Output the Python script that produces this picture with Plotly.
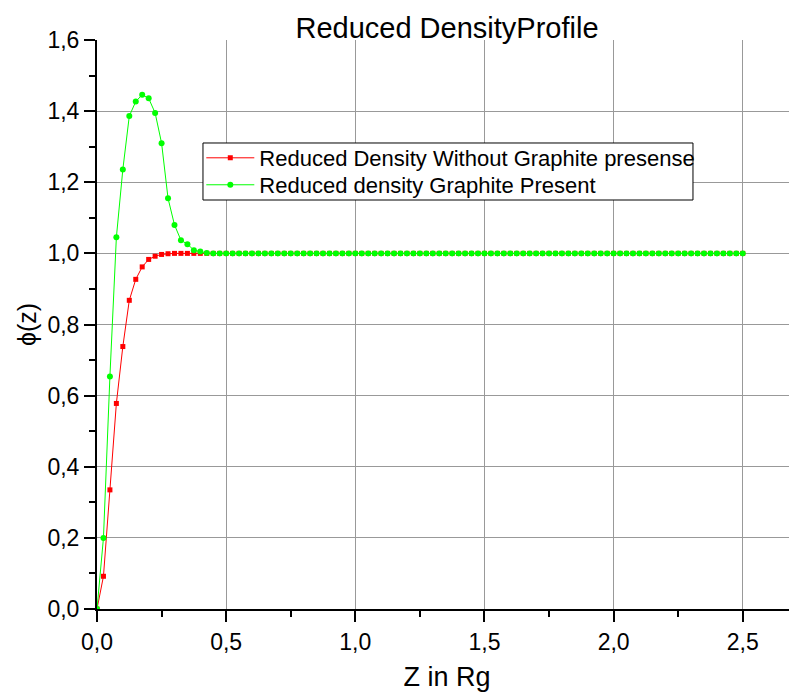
import plotly.graph_objects as go

# Reduced distance z (in units of Rg)
z = [
    0.0, 0.025, 0.05, 0.075, 0.1, 0.125, 0.15, 0.175, 0.2, 0.225,
    0.25, 0.275, 0.3, 0.325, 0.35, 0.375, 0.4, 0.425, 0.45, 0.475,
    0.5, 0.525, 0.55, 0.575, 0.6, 0.625, 0.65, 0.675, 0.7, 0.725,
    0.75, 0.775, 0.8, 0.825, 0.85, 0.875, 0.9, 0.925, 0.95, 0.975,
    1.0, 1.025, 1.05, 1.075, 1.1, 1.125, 1.15, 1.175, 1.2, 1.225,
    1.25, 1.275, 1.3, 1.325, 1.35, 1.375, 1.4, 1.425, 1.45, 1.475,
    1.5, 1.525, 1.55, 1.575, 1.6, 1.625, 1.65, 1.675, 1.7, 1.725,
    1.75, 1.775, 1.8, 1.825, 1.85, 1.875, 1.9, 1.925, 1.95, 1.975,
    2.0, 2.025, 2.05, 2.075, 2.1, 2.125, 2.15, 2.175, 2.2, 2.225,
    2.25, 2.275, 2.3, 2.325, 2.35, 2.375, 2.4, 2.425, 2.45, 2.475,
    2.5,
]

phi_without = [
    0.0, 0.092, 0.335, 0.578, 0.738, 0.868, 0.927, 0.962, 0.983, 0.992,
    0.997, 0.999, 1.0, 1.0, 1.0, 1.0, 1.0, 1.0, 1.0, 1.0,
    1.0, 1.0, 1.0, 1.0, 1.0, 1.0, 1.0, 1.0, 1.0, 1.0,
    1.0, 1.0, 1.0, 1.0, 1.0, 1.0, 1.0, 1.0, 1.0, 1.0,
    1.0, 1.0, 1.0, 1.0, 1.0, 1.0, 1.0, 1.0, 1.0, 1.0,
    1.0, 1.0, 1.0, 1.0, 1.0, 1.0, 1.0, 1.0, 1.0, 1.0,
    1.0, 1.0, 1.0, 1.0, 1.0, 1.0, 1.0, 1.0, 1.0, 1.0,
    1.0, 1.0, 1.0, 1.0, 1.0, 1.0, 1.0, 1.0, 1.0, 1.0,
    1.0, 1.0, 1.0, 1.0, 1.0, 1.0, 1.0, 1.0, 1.0, 1.0,
    1.0, 1.0, 1.0, 1.0, 1.0, 1.0, 1.0, 1.0, 1.0, 1.0,
    1.0,
]

phi_graphite = [
    0.0, 0.200, 0.654, 1.045, 1.236, 1.386, 1.427, 1.446, 1.436, 1.395,
    1.310, 1.155, 1.080, 1.037, 1.026, 1.009, 1.005, 1.001, 1.0, 1.0,
    1.0, 1.0, 1.0, 1.0, 1.0, 1.0, 1.0, 1.0, 1.0, 1.0,
    1.0, 1.0, 1.0, 1.0, 1.0, 1.0, 1.0, 1.0, 1.0, 1.0,
    1.0, 1.0, 1.0, 1.0, 1.0, 1.0, 1.0, 1.0, 1.0, 1.0,
    1.0, 1.0, 1.0, 1.0, 1.0, 1.0, 1.0, 1.0, 1.0, 1.0,
    1.0, 1.0, 1.0, 1.0, 1.0, 1.0, 1.0, 1.0, 1.0, 1.0,
    1.0, 1.0, 1.0, 1.0, 1.0, 1.0, 1.0, 1.0, 1.0, 1.0,
    1.0, 1.0, 1.0, 1.0, 1.0, 1.0, 1.0, 1.0, 1.0, 1.0,
    1.0, 1.0, 1.0, 1.0, 1.0, 1.0, 1.0, 1.0, 1.0, 1.0,
    1.0,
]

series_names = [
    "Reduced Density Without Graphite presense",
    "Reduced density Graphite Present",
]
x_ticks = [0.0, 0.5, 1.0, 1.5, 2.0, 2.5]
x_minor_ticks = [0.25, 0.75, 1.25, 1.75, 2.25]
y_ticks = [0.0, 0.2, 0.4, 0.6, 0.8, 1.0, 1.2, 1.4, 1.6]

FONT = "Liberation Sans, Arial, sans-serif"

fig = go.Figure()
fig.add_trace(go.Scatter(
    x=z, y=phi_without, name=series_names[0], mode="lines+markers",
    line=dict(color="#ff0000", width=1),
    marker=dict(symbol="square", size=5, color="#ff0000"),
    legend="legend",
))
fig.add_trace(go.Scatter(
    x=z, y=phi_graphite, name=series_names[1], mode="lines+markers",
    line=dict(color="#00ff00", width=1),
    marker=dict(symbol="circle", size=6, color="#00ff00"),
    legend="legend2",
))

legend_common = dict(
    xanchor="left", yanchor="middle",
    bgcolor="rgba(0,0,0,0)", borderwidth=0,
    font=dict(size=22, family=FONT, color="black"),
    itemwidth=48,
)

# page body has an 8px margin, so the figure is placed at (8, 8)
fig.update_layout(
    width=789, height=687,
    margin=dict(l=89, r=0, t=32, b=86, autoexpand=False),
    paper_bgcolor="white", plot_bgcolor="white",
    separators=",.",
    font=dict(family=FONT, color="black"),
    title=dict(text="Reduced DensityProfile", x=0.5, xref="paper",
               y=1 - 20 / 687, yref="container", yanchor="middle", xanchor="center",
               font=dict(size=29, family=FONT, color="black")),
    showlegend=True,
    legend=dict(x=0.149, y=0.7926, **legend_common),
    legend2=dict(x=0.149, y=0.7452, **legend_common),
    shapes=[dict(type="rect", xref="paper", yref="paper",
                 x0=0.1514, x1=0.8514, y0=0.7188, y1=0.819,
                 line=dict(color="black", width=1), fillcolor="white",
                 layer="above")],
)

fig.update_xaxes(
    range=[0, 2.71], tickvals=x_ticks, tickformat=".1f",
    showline=True, linecolor="black", linewidth=2,
    ticks="outside", ticklen=11, tickwidth=2, tickcolor="black",
    tickfont=dict(size=23, family=FONT, color="black"),
    showgrid=True, gridcolor="#999999", gridwidth=1, zeroline=False,
    minor=dict(tickvals=x_minor_ticks, ticks="outside",
               ticklen=6, tickwidth=2, tickcolor="black", showgrid=False),
    title=dict(text="Z in Rg", font=dict(size=27, family=FONT, color="black"),
               standoff=14),
)
fig.update_yaxes(
    range=[0, 1.6], tickvals=y_ticks, tickformat=".1f",
    showline=True, linecolor="black", linewidth=2,
    ticks="outside", ticklen=11, tickwidth=2, tickcolor="black",
    tickfont=dict(size=23, family=FONT, color="black"),
    showgrid=True, gridcolor="#999999", gridwidth=1, zeroline=False,
    minor=dict(dtick=0.1, ticks="outside", ticklen=6, tickwidth=2,
               tickcolor="black", showgrid=False),
    title=dict(text="ϕ(z)", font=dict(size=25, family=FONT, color="black"),
               standoff=4),
)

fig.write_html("out.html")
